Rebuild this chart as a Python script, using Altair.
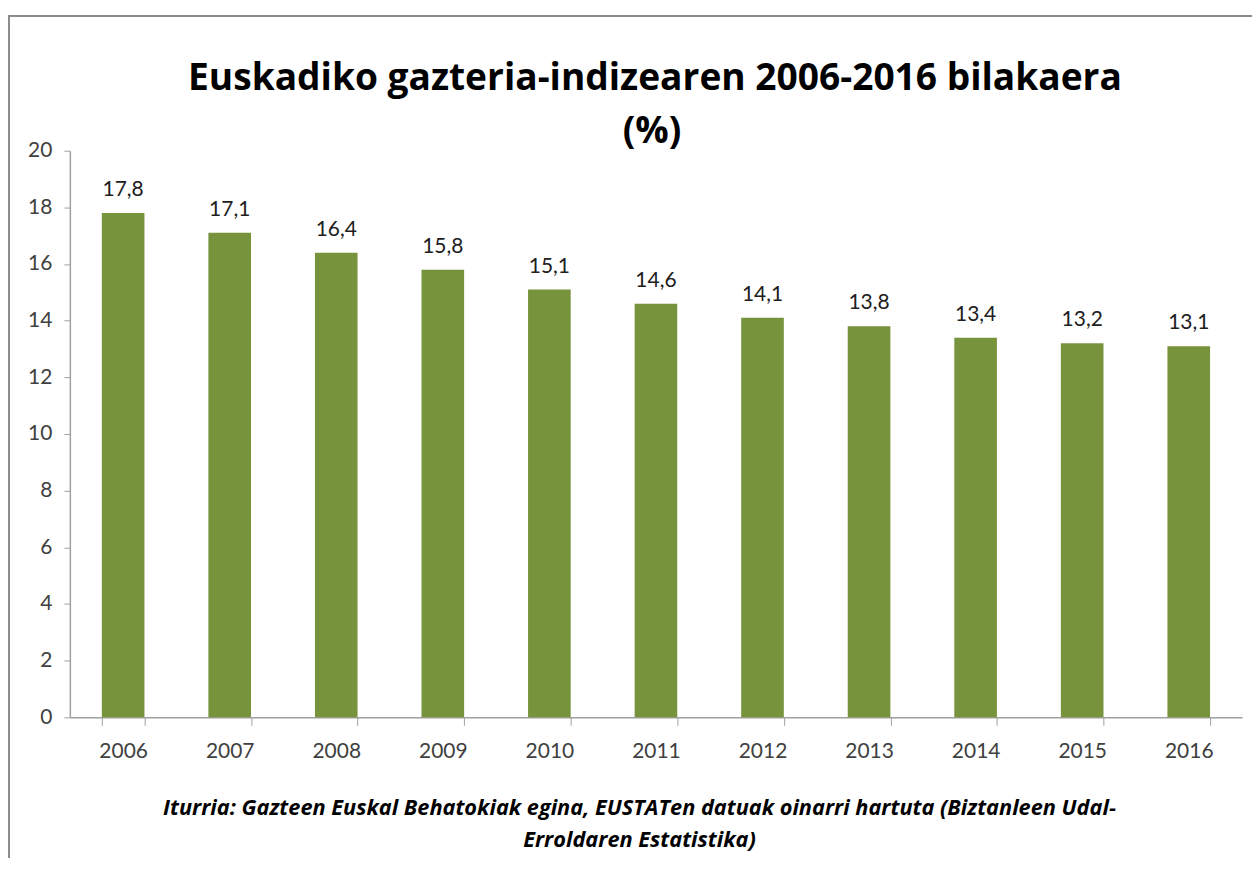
import altair as alt
import pandas as pd

years = ["2006", "2007", "2008", "2009", "2010", "2011", "2012", "2013", "2014", "2015", "2016"]
values = [17.8, 17.1, 16.4, 15.8, 15.1, 14.6, 14.1, 13.8, 13.4, 13.2, 13.1]
y_ticks = [0, 2, 4, 6, 8, 10, 12, 14, 16, 18, 20]
title_lines = ["Euskadiko gazteria-indizearen 2006-2016 bilakaera", "(%)"]
footer_lines = ["Iturria: Gazteen Euskal Behatokiak egina, EUSTATen datuak oinarri hartuta (Biztanleen Udal-",
                "Erroldaren Estatistika)"]

df = pd.DataFrame({"year": years, "value": values})

FONT = "Lato"
W, H = 1175, 568
AXIS_GRAY = "#a0a0a0"

base = alt.Chart(df).encode(
    x=alt.X("year:N", sort=years,
            scale=alt.Scale(paddingInner=0.6, paddingOuter=0.3),
            axis=alt.Axis(title=None, labelAngle=0, labelFontSize=21, labelColor="#404040",
                          labelFont=FONT, labelPadding=15, tickBand="extent", tickSize=8,
                          tickColor=AXIS_GRAY, domainColor=AXIS_GRAY, domainWidth=1.5, grid=False)),
)

bars = base.mark_bar(color="#77933C").encode(
    y=alt.Y("value:Q", scale=alt.Scale(domain=[0, 20], nice=False),
            axis=alt.Axis(title=None, values=y_ticks, labelFontSize=21, labelColor="#404040",
                          labelFont=FONT, labelPadding=12, tickSize=6, tickColor=AXIS_GRAY,
                          domainColor=AXIS_GRAY, domainWidth=1.5, grid=False))
)

labels = base.transform_calculate(
    lab="replace(format(datum.value, '.1f'), '.', ',')"
).mark_text(fontSize=21, font=FONT, color="#202020", baseline="alphabetic", dy=-17).encode(
    y="value:Q", text="lab:N"
)

one = pd.DataFrame({"k": [0]})

TFONT = "Open Sans"
title1 = alt.Chart(one).mark_text(fontSize=37.2, font=TFONT, fontWeight="bold", color="#000000",
                                  align="center", baseline="alphabetic").encode(
    x=alt.value(W / 2 - 1), y=alt.value(-61), text=alt.value(title_lines[0]))
title2 = alt.Chart(one).mark_text(fontSize=37.2, font=TFONT, fontWeight="bold", color="#000000",
                                  align="center", baseline="alphabetic").encode(
    x=alt.value(W / 2 - 4), y=alt.value(-8), text=alt.value(title_lines[1]))

foot1 = alt.Chart(one).mark_text(fontSize=21.8, font="Open Sans", fontWeight="bold", fontStyle="italic",
                                 color="#000000", align="center", baseline="alphabetic").encode(
    x=alt.value(571), y=alt.value(666), text=alt.value(footer_lines[0]))
foot2 = alt.Chart(one).mark_text(fontSize=21.8, font="Open Sans", fontWeight="bold", fontStyle="italic",
                                 color="#000000", align="center", baseline="alphabetic").encode(
    x=alt.value(571), y=alt.value(698), text=alt.value(footer_lines[1]))

border_left = alt.Chart(one).mark_rule(color="#8c8c8c", strokeWidth=2).encode(
    x=alt.value(-61), y=alt.value(-136), y2=alt.value(H + 200)
)
border_top = alt.Chart(one).mark_rule(color="#8c8c8c", strokeWidth=2).encode(
    x=alt.value(-62), x2=alt.value(W + 20), y=alt.value(-135)
)

chart = alt.layer(bars, labels, title1, title2, foot1, foot2, border_left, border_top).properties(
    width=W, height=H,
    autosize=alt.AutoSizeParams(type="none"),
    padding={"left": 62, "top": 142, "right": 10, "bottom": 140},
).configure_view(stroke=None)

chart.save("out.html", embed_options={"renderer": "svg", "actions": False})
